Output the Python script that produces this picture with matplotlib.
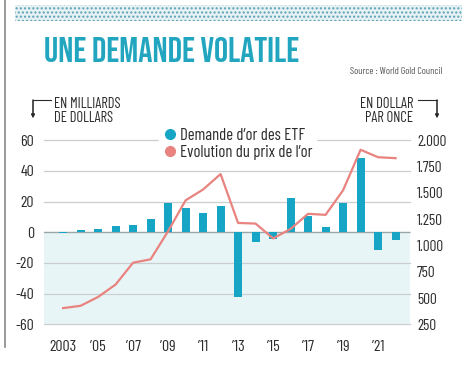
import numpy as np
import matplotlib.pyplot as plt
from matplotlib.lines import Line2D
from matplotlib.patches import Rectangle

plt.rcParams['font.family'] = ['Barlow Condensed', 'DejaVu Sans']

annees = np.arange(2003, 2023)
etf = [-0.6, 1.3, 2.4, 4.1, 5.0, 8.5, 19.3, 15.9, 12.8, 17.2,
       -42.0, -6.5, -4.3, 22.2, 10.4, 3.7, 18.9, 48.7, -11.7, -4.8]
prix_or = [404, 426, 510, 628, 836, 868, 1135, 1429, 1532, 1679,
           1214, 1208, 1067, 1157, 1301, 1291, 1525, 1910, 1839, 1830]
xticks_pos = [2003, 2005, 2007, 2009, 2011, 2013, 2015, 2017, 2019, 2021]
xticks_lab = ['2003', '\u201905', '\u201907', '\u201909', '\u201911',
              '\u201913', '\u201915', '\u201917', '\u201919', '\u201921']
ticks_g = [-60, -40, -20, 0, 20, 40, 60]
ticks_d = [250, 500, 750, 1000, 1250, 1500, 1750, 2000]

bleu = '#17a5c6'
rose = '#e8837f'
gris = '#2b2b2b'

fig = plt.figure(figsize=(4.67, 3.70), dpi=100)
ax = fig.add_axes([0.0942, 0.1235, 0.784, 0.4973])

# fond teinté sous zéro
ax.axhspan(-60, 0, color='#e8f5f6', zorder=0)
for t in ticks_g:
    ax.axhline(t, color='#c9cfd1', lw=0.9, zorder=1, clip_on=False)
ax.axhline(0, color='#9aa5a8', lw=0.9, zorder=1)

ax.bar(annees, etf, width=0.45, color=bleu, zorder=3)
ax.set_xlim(2001.91, 2022.83)
ax.set_ylim(-60, 60)
ax.set_yticks(ticks_g)
ax.set_yticklabels([str(t) for t in ticks_g])
ax.set_xticks(xticks_pos)
ax.set_xticklabels(xticks_lab)
ax.tick_params(length=0, labelsize=11.5, colors=gris, pad=7)
ax.tick_params(axis='x', pad=11)
for s in ax.spines.values():
    s.set_visible(False)

ax2 = ax.twinx()
ax2.plot(annees, prix_or, color=rose, lw=1.6, zorder=4)
ax2.set_ylim(250, 2000)
ax2.set_yticks(ticks_d)
ax2.set_yticklabels([f'{t:,}'.replace(',', '.') for t in ticks_d])
ax2.tick_params(length=0, labelsize=11, colors=gris, pad=5)
for s in ax2.spines.values():
    s.set_visible(False)

handles = [Line2D([], [], ls='', marker='o', ms=7, color=bleu),
           Line2D([], [], ls='', marker='o', ms=7, color=rose)]
leg = ax2.legend(handles, ['Demande d\u2019or des ETF', 'Evolution du prix de l\u2019or'],
                 loc='upper left', bbox_to_anchor=(0.29, 1.13), frameon=True,
                 fancybox=False, framealpha=1, edgecolor='white', fontsize=12,
                 handletextpad=0.1, labelspacing=0.1, borderpad=0.2, handlelength=1)
for t in leg.get_texts():
    t.set_color(gris)

# bandeau pointillé en haut
fig.patches.append(Rectangle((15 / 467, 1 - 21 / 370), 447 / 467, 16 / 370,
                             transform=fig.transFigure, facecolor='#e6f1f4',
                             edgecolor='#5aa2b6', hatch='....', lw=0))
fig.add_artist(Line2D([5 / 467, 5 / 467], [1 - 347 / 370, 1], color='#888888', lw=1.2))

fig.text(44 / 467, 1 - 49 / 370, 'UNE DEMANDE VOLATILE', color='#22a6c0',
         fontsize=25.5, va='center', ha='left', family=['Bebas Neue'])
fig.text(350 / 467, 1 - 71 / 370, 'Source : World Gold Council', color='#555555',
         fontsize=7.2, va='center', ha='left')

fig.text(54 / 467, 1 - 111 / 370, 'EN MILLIARDS\nDE DOLLARS', color=gris,
         fontsize=10.5, va='center', ha='left', linespacing=0.95)
fig.text(413 / 467, 1 - 111 / 370, 'EN DOLLAR\nPAR ONCE', color=gris,
         fontsize=10.5, va='center', ha='right', linespacing=0.95, multialignment='right')

fig.add_artist(Line2D([33 / 467, 51 / 467], [1 - 100 / 370] * 2, color=gris, lw=0.8))
fig.add_artist(Line2D([418 / 467, 437 / 467], [1 - 100 / 370] * 2, color=gris, lw=0.8))
for xa in (33, 437):
    fig.add_artist(plt.annotate('', xy=(xa / 467, 1 - 118 / 370), xytext=(xa / 467, 1 - 100 / 370),
                                xycoords='figure fraction',
                                arrowprops=dict(arrowstyle='-|>', color=gris, lw=0.8,
                                                mutation_scale=5, shrinkA=0, shrinkB=0)))

fig.savefig('out.png', dpi=100)
